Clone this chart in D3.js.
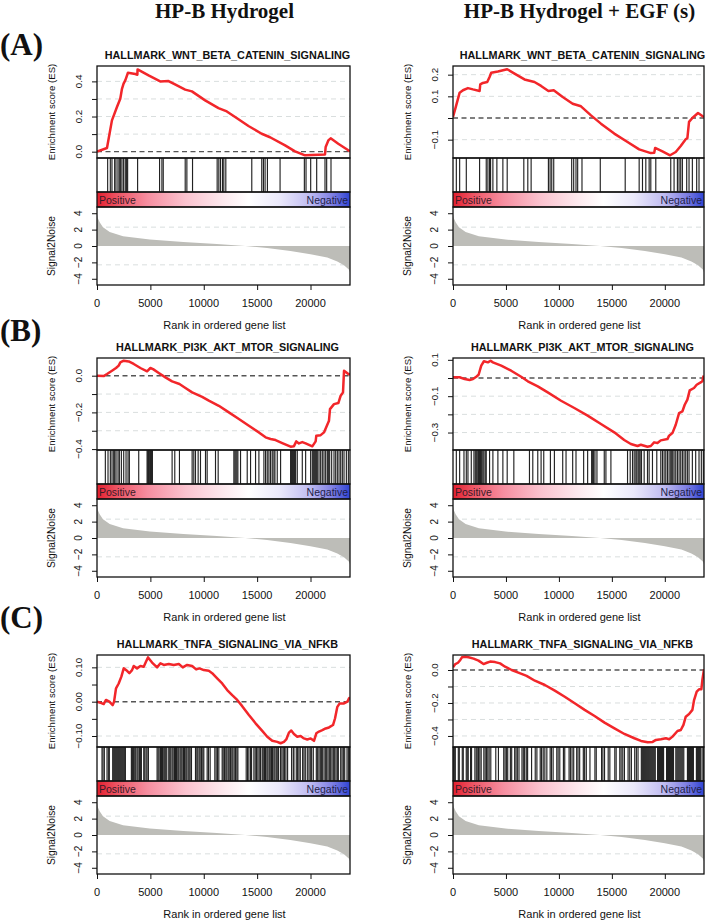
<!DOCTYPE html>
<html><head><meta charset="utf-8">
<script src="https://cdn.jsdelivr.net/npm/d3@7"></script>
<style>body{margin:0;background:#fff}svg{display:block}</style>
</head><body><svg id="c" width="707" height="920"></svg>
<script>
// ---------------- DATA ----------------
const nGenes = 23700;
const columnTitles = ["HP-B Hydrogel", "HP-B Hydrogel + EGF (s)"];
const rowLabels = ["(A)", "(B)", "(C)"];
const geneSets = ["HALLMARK_WNT_BETA_CATENIN_SIGNALING", "HALLMARK_PI3K_AKT_MTOR_SIGNALING", "HALLMARK_TNFA_SIGNALING_VIA_NFKB"];
const xTicks = [0, 5000, 10000, 15000, 20000];
const sigTicks = [4, 2, 0, -2, -4];
const sigGrid = [2.3, -2.3];
const sigLim = [-4.76, 4.76];
// ranked list metric (Signal2Noise)
const signalRank  = [0, 80, 250, 560, 1190, 2440, 4950, 8090, 11220, 13890, 15930, 18120, 20000, 21570, 22510, 23140, 23610, 23700];
const signalValue = [3.9, 3.4, 2.9, 2.3, 1.7, 1.2, 0.78, 0.49, 0.25, 0.0, -0.25, -0.6, -1.0, -1.4, -1.9, -2.35, -2.9, -3.2];

// A, HP-B Hydrogel
const esA1 = [[0,0],[935,0.021],[1090,0.074],[1400,0.178],[1870,0.254],[2180,0.301],[2340,0.358],[2490,0.387],[2650,0.406],[2900,0.449],[3590,0.442],[3780,0.438],[3800,0.468],[4830,0.434],[5920,0.400],[6700,0.402],[7170,0.387],[8260,0.353],[8890,0.343],[10130,0.292],[11380,0.248],[12160,0.229],[12940,0.197],[14190,0.146],[15430,0.102],[16210,0.082],[17620,0.036],[18550,0.002],[19490,-0.021],[20110,-0.019],[21360,-0.016],[21420,0.027],[21670,0.064],[21890,0.076],[22600,0.045],[23540,0.008],[23700,0.002]];
const hitsA1 = [998,1247,1403,1653,1777,1964,2089,2214,2339,2494,2650,2775,2869,3804,5862,6080,6205,8263,8419,8949,11256,11412,11568,11755,11880,12067,14499,15434,15590,15746,15964,17149,19425,19581,20017,20579,21358,21514,21920];
const yLimA1 = [-0.036, 0.4875], yTicksA1 = [0,0.1,0.2,0.3,0.4], yLabA1 = [0,0.2,0.4], yGridA1 = [0.1,0.2,0.3,0.4];

// A, HP-B Hydrogel + EGF (s)
const esA2 = [[0,0.005],[220,0.043],[628,0.117],[942,0.128],[1413,0.138],[1884,0.132],[2512,0.125],[2574,0.155],[2825,0.162],[3233,0.166],[3453,0.189],[3610,0.209],[4238,0.215],[5117,0.225],[5807,0.205],[6749,0.178],[7691,0.166],[8319,0.148],[9009,0.125],[9511,0.128],[10359,0.097],[11300,0.066],[12085,0.054],[13028,0.012],[13970,-0.026],[15225,-0.072],[16480,-0.111],[17578,-0.145],[18677,-0.162],[19000,-0.160],[19085,-0.138],[19776,-0.154],[20498,-0.172],[21032,-0.157],[21503,-0.129],[21973,-0.098],[22130,-0.093],[22287,-0.018],[22601,0.000],[23135,0.023],[23543,0.009],[23700,0.005]];
const hitsA2 = [314,628,1256,2511,3139,3296,3453,3547,3767,4143,4709,5117,6686,7063,7377,9009,9166,9323,9511,11206,11395,11614,11771,12179,13906,16260,17578,17892,18206,18520,18677,19148,20560,20874,21188,21345,21502,21659,22067,22287,22601,23009,23229];
const yLimA2 = [-0.1846, 0.240], yTicksA2 = [-0.1,0,0.1,0.2], yLabA2 = [-0.1,0.1,0.2], yGridA2 = [-0.1,0.1,0.2];

// B, HP-B Hydrogel
const esB1 = [[0,0],[625,-0.002],[938,0.009],[1407,0.027],[1782,0.042],[2032,0.055],[2189,0.073],[2502,0.082],[2971,0.078],[3440,0.064],[4065,0.042],[4691,0.024],[5003,0.042],[5253,0.036],[5785,0.015],[6410,-0.009],[7036,-0.031],[7724,-0.045],[8287,-0.067],[8912,-0.091],[9850,-0.115],[10475,-0.136],[11413,-0.164],[12352,-0.200],[13290,-0.236],[14228,-0.273],[15166,-0.309],[15791,-0.336],[16260,-0.345],[16729,-0.351],[17354,-0.367],[18136,-0.387],[18450,-0.384],[18668,-0.358],[18918,-0.369],[19230,-0.362],[19544,-0.369],[20169,-0.385],[20482,-0.358],[20544,-0.327],[20951,-0.324],[21263,-0.309],[21732,-0.245],[21826,-0.182],[22201,-0.155],[22608,-0.149],[22827,-0.109],[23046,-0.091],[23140,0.027],[23452,0.013],[23700,0.005]];
const hitsB1 = [782,1032,1251,1407,1564,1657,1782,1970,2095,2283,2502,2720,2908,3033,3909,4691,4753,4816,4878,4941,5003,5097,5191,7036,7286,7724,8912,9068,9225,9475,9694,10163,10319,11101,11351,12821,12915,13008,13102,13196,13446,14072,14384,14853,15166,15635,15791,15948,16104,16260,16417,16573,16667,16886,17198,18136,18230,18324,18418,18511,18605,18762,19231,19544,20013,20169,20263,20357,20451,20545,20638,20795,20951,21107,21264,21420,21576,21670,21795,21983,22202,22358,22514,22671,22827,22983,23140,23359,23547];
const yLimB1 = [-0.405, 0.0965], yTicksB1 = [0,-0.1,-0.2,-0.3,-0.4], yLabB1 = [0,-0.2,-0.4], yGridB1 = [-0.1,-0.2,-0.3];

// B, HP-B Hydrogel + EGF (s)
const esB2 = [[0,0.004],[628,0.004],[1099,-0.006],[1570,-0.011],[1884,-0.006],[2197,0.007],[2417,0.018],[2668,0.068],[2919,0.092],[3296,0.086],[3547,0.095],[3767,0.086],[4552,0.068],[5494,0.040],[6435,0.007],[7063,-0.018],[8004,-0.046],[8946,-0.079],[10202,-0.125],[11457,-0.165],[12713,-0.207],[13969,-0.253],[15225,-0.299],[16166,-0.341],[16794,-0.363],[17422,-0.374],[17736,-0.367],[18363,-0.378],[18677,-0.374],[18991,-0.354],[19305,-0.358],[19619,-0.343],[20247,-0.336],[20404,-0.317],[20718,-0.303],[21032,-0.257],[21346,-0.193],[21660,-0.184],[21880,-0.147],[22131,-0.119],[22350,-0.068],[22758,-0.055],[23009,-0.037],[23386,-0.024],[23543,-0.018],[23637,0.007],[23700,0.013]];
const hitsB2 = [314,628,1036,1256,1413,1726,1978,2103,2197,2291,2417,2511,2605,2668,2731,2825,2919,3045,3139,3453,3767,4238,4709,5117,5744,7220,7534,8004,8318,8569,9197,9574,10359,10673,11300,11614,12336,12713,13090,13184,13278,13404,13592,14282,14439,14910,16480,16731,16951,17108,17265,17359,17484,17578,17672,17798,18049,18363,18520,18834,19242,19619,19776,19933,20090,20247,20404,20560,20655,20749,20874,21032,21189,21346,21502,21659,21816,21973,22130,22287,22601,22915,23229,23448,23637];
const yLimB2 = [-0.396, 0.110], yTicksB2 = [0.1,0,-0.1,-0.2,-0.3], yLabB2 = [0.1,-0.1,-0.3], yGridB2 = [-0.1,-0.2,-0.3];

// C, HP-B Hydrogel
const esC1 = [[0,0],[313,-0.003],[625,-0.007],[844,0.005],[1157,0.0],[1470,-0.010],[1600,0.0],[1782,0.039],[2032,0.053],[2283,0.073],[2502,0.097],[2814,0.090],[3033,0.083],[3283,0.092],[3440,0.104],[3752,0.097],[4065,0.104],[4378,0.102],[4597,0.117],[4784,0.129],[5160,0.114],[5629,0.100],[5942,0.112],[6254,0.107],[6723,0.110],[7192,0.107],[7661,0.110],[8037,0.100],[8443,0.107],[8912,0.104],[9287,0.094],[9600,0.097],[10006,0.092],[10475,0.090],[10788,0.083],[11257,0.068],[11726,0.053],[12195,0.034],[12664,0.019],[13133,0.005],[13602,-0.013],[14228,-0.039],[14853,-0.063],[15479,-0.085],[15948,-0.102],[16417,-0.114],[16886,-0.117],[17198,-0.121],[17511,-0.117],[17730,-0.110],[17980,-0.090],[18199,-0.084],[18449,-0.094],[18762,-0.102],[19074,-0.100],[19387,-0.107],[19700,-0.110],[20013,-0.107],[20326,-0.114],[20545,-0.092],[20795,-0.087],[21107,-0.083],[21420,-0.078],[21733,-0.075],[22108,-0.068],[22295,-0.049],[22514,-0.015],[22733,-0.005],[23140,-0.005],[23452,0.0],[23610,0.010],[23700,0.012]];
const hitsC1 = [469,563,688,938,1063,1157,1470,1564,1657,1751,1845,1939,2032,2126,2220,2314,2408,2502,2595,2658,3221,3315,3409,3534,3628,3753,3847,3972,4066,4159,4378,4472,4597,4691,4816,5629,5723,5817,5942,6036,6129,6254,6348,6442,6536,6723,6817,6911,7036,7130,7254,7348,7442,7567,7661,7786,7880,7974,8099,8193,8318,8412,8537,8631,8725,8850,9225,9350,9444,9569,9663,9788,9913,10006,10319,10444,10600,11038,11163,11288,11413,11726,11820,11945,12070,12164,12289,12383,12508,12633,12727,12852,12977,13102,13196,13977,14103,14228,14384,14478,14697,14822,14947,15072,15197,15322,15479,15573,15698,15792,15917,16011,16136,16229,16354,16448,16573,16667,16792,16886,17011,17198,17323,17448,17573,17698,17855,18230,18387,18449,18668,18793,18918,19043,19262,19387,19512,19700,19856,19981,20106,20263,20545,20670,20795,20920,21045,21107,21264,21389,21514,21639,21764,21889,22014,22139,22264,22389,22514,22608,22827,22952,23077,23202,23421,23546,23640];
const yLimC1 = [-0.132, 0.136], yTicksC1 = [0.10,0.05,0,-0.05,-0.10], yLabC1 = [0.10,0,-0.10], yGridC1 = [0.10,-0.10];

// C, HP-B Hydrogel + EGF (s)
const esC2 = [[0,0.016],[219,0.036],[470,0.044],[689,0.061],[845,0.077],[1158,0.081],[1472,0.077],[1941,0.069],[2411,0.057],[2880,0.036],[3194,0.044],[3507,0.051],[3976,0.048],[4446,0.040],[4916,0.020],[5542,0.0],[6168,-0.016],[6951,-0.036],[7733,-0.065],[8673,-0.091],[9612,-0.125],[10551,-0.162],[11490,-0.202],[12430,-0.242],[13369,-0.279],[14308,-0.319],[15248,-0.354],[16187,-0.388],[17126,-0.414],[17752,-0.430],[18379,-0.438],[18848,-0.436],[19161,-0.424],[19631,-0.420],[20101,-0.414],[20414,-0.420],[20727,-0.404],[21197,-0.370],[21510,-0.364],[21760,-0.333],[21979,-0.283],[22292,-0.267],[22605,-0.242],[22762,-0.182],[23013,-0.131],[23232,-0.117],[23451,-0.117],[23545,-0.061],[23700,0.004]];
const hitsC2 = [31,125,219,501,595,877,971,1252,1346,1440,1659,1753,2066,2192,2286,2411,2536,2661,2912,3037,3162,3288,3413,3569,4039,4289,4790,4916,5041,5166,5417,5542,5824,5949,6074,6231,6512,6638,6763,6920,7045,7420,7765,7921,8235,8360,8516,8673,8861,9174,9299,9456,9800,9925,10082,10426,10551,10959,11084,11240,11397,11679,11804,11960,12305,12430,12587,12931,13401,13526,14027,14152,14309,14653,14810,15279,15405,15749,15874,16031,16187,16532,16688,16845,17158,17314,17471,17784,17878,17972,18066,18160,18254,18348,18442,18535,18629,18723,18817,18911,19005,19099,19318,19412,19506,19600,19694,19788,19882,20164,20258,20352,20446,20539,20633,20727,20821,21040,21134,21228,21322,21416,21510,21604,21698,21792,22136,22230,22324,22418,22512,22606,22700,22982,23076,23170,23264,23358,23514,23639];
const yLimC2 = [-0.467, 0.091], yTicksC2 = [0,-0.1,-0.2,-0.3,-0.4], yLabC2 = [0,-0.2,-0.4], yGridC2 = [-0.1,-0.2,-0.3,-0.4];

// ---------------- LAYOUT ----------------
const panels = [
  {row:0,col:0,es:esA1,hits:hitsA1,lim:yLimA1,ticks:yTicksA1,labs:yLabA1,grid:yGridA1,fmt:".1f"},
  {row:0,col:1,es:esA2,hits:hitsA2,lim:yLimA2,ticks:yTicksA2,labs:yLabA2,grid:yGridA2,fmt:".1f"},
  {row:1,col:0,es:esB1,hits:hitsB1,lim:yLimB1,ticks:yTicksB1,labs:yLabB1,grid:yGridB1,fmt:".1f"},
  {row:1,col:1,es:esB2,hits:hitsB2,lim:yLimB2,ticks:yTicksB2,labs:yLabB2,grid:yGridB2,fmt:".1f"},
  {row:2,col:0,es:esC1,hits:hitsC1,lim:yLimC1,ticks:yTicksC1,labs:yLabC1,grid:yGridC1,fmt:".2f"},
  {row:2,col:1,es:esC2,hits:hitsC2,lim:yLimC2,ticks:yTicksC2,labs:yLabC2,grid:yGridC2,fmt:".1f"}
];
const colX = [{l:97,r:350},{l:453,r:704}];
const rowOff = [0, 292, 589];
const L = {title:59, esTop:66, esBot:158, hitBot:192, barBot:207, sigBot:285, tick:307, rank:329};
const SANS = "'Liberation Sans', Arial, sans-serif";
const SERIF = "'Liberation Serif', 'Times New Roman', serif";

const svg = d3.select("#c");
svg.append("rect").attr("width",707).attr("height",920).attr("fill","#fff");

const defs = svg.append("defs");
const grad = defs.append("linearGradient").attr("id","pn").attr("x1","0").attr("x2","1").attr("y1","0").attr("y2","0");
[[0,"#e31f2e"],[0.08,"#ee5565"],[0.2,"#f68ea0"],[0.35,"#fbc3cf"],[0.5,"#fde9ee"],[0.6,"#ffffff"],[0.72,"#ebe9fb"],[0.84,"#c0bcf1"],[0.93,"#7f7fe3"],[1,"#2f44d4"]]
  .forEach(([o,c]) => grad.append("stop").attr("offset",o).attr("stop-color",c));

// column titles
columnTitles.forEach((t,i) => {
  svg.append("text").attr("x",(colX[i].l+colX[i].r)/2 + 1).attr("y",18)
    .attr("text-anchor","middle").attr("font-family",SERIF).attr("font-weight","bold")
    .attr("font-size",21).attr("fill","#111").text(t);
});
// row labels
const rowLabelY = [54.5, 341, 627.5];
rowLabels.forEach((t,i) => {
  svg.append("text").attr("x",0).attr("y",rowLabelY[i]).attr("font-family",SERIF)
    .attr("font-weight","bold").attr("font-size",31).attr("fill","#111").text(t);
});

const x0lim = [0, nGenes];
panels.forEach(p => {
  const o = rowOff[p.row];
  const cx = colX[p.col];
  const g = svg.append("g");
  const x = d3.scaleLinear().domain(x0lim).range([cx.l, cx.r]);
  const y = d3.scaleLinear().domain(p.lim).range([L.esBot + o, L.esTop + o]);
  const ys = d3.scaleLinear().domain(sigLim).range([L.sigBot + o, L.barBot + o]);

  // title
  g.append("text").attr("x",(cx.l+cx.r)/2 + 4).attr("y",L.title + o).attr("text-anchor","middle")
    .attr("font-family",SANS).attr("font-weight","bold").attr("font-size",10.8).attr("fill","#111")
    .text(geneSets[p.row]);

  // ES grid
  g.selectAll(".gr").data(p.grid).join("line")
    .attr("x1",cx.l).attr("x2",cx.r).attr("y1",d=>y(d)).attr("y2",d=>y(d))
    .attr("stroke","#d9dede").attr("stroke-width",1).attr("stroke-dasharray","5,4");
  g.append("line").attr("x1",cx.l).attr("x2",cx.r).attr("y1",y(0)).attr("y2",y(0))
    .attr("stroke","#555").attr("stroke-width",1.4).attr("stroke-dasharray","5,3.5");

  // ES curve
  const clipId = "clip" + p.row + p.col;
  defs.append("clipPath").attr("id",clipId).append("rect")
    .attr("x",cx.l).attr("y",L.esTop+o).attr("width",cx.r-cx.l).attr("height",L.esBot-L.esTop);
  g.append("path").datum(p.es).attr("clip-path","url(#"+clipId+")")
    .attr("d", d3.line().x(d=>x(d[0])).y(d=>y(d[1])))
    .attr("fill","none").attr("stroke","#f2262a").attr("stroke-width",2.5).attr("stroke-linejoin","round");

  // hits
  g.selectAll(".hit").data(p.hits).join("line")
    .attr("x1",d=>x(d)).attr("x2",d=>x(d)).attr("y1",L.esBot+o).attr("y2",L.hitBot+o)
    .attr("stroke","#222").attr("stroke-width",1.15);

  // color bar
  g.append("rect").attr("x",cx.l).attr("y",L.hitBot+o).attr("width",cx.r-cx.l).attr("height",L.barBot-L.hitBot)
    .attr("fill","url(#pn)");
  g.append("text").attr("x",cx.l+2).attr("y",L.barBot+o-3.2).attr("font-family",SANS).attr("font-size",10.5)
    .attr("fill","#3a1b28").text("Positive");
  g.append("text").attr("x",cx.r-2).attr("y",L.barBot+o-3.2).attr("text-anchor","end").attr("font-family",SANS)
    .attr("font-size",10.5).attr("fill","#1e1e48").text("Negative");

  // signal area
  const sig = signalRank.map((r,i)=>[r, signalValue[i]]);
  g.selectAll(".sg").data(sigGrid).join("line")
    .attr("x1",cx.l).attr("x2",cx.r).attr("y1",d=>ys(d)).attr("y2",d=>ys(d))
    .attr("stroke","#d9dede").attr("stroke-width",1).attr("stroke-dasharray","5,4");
  g.append("path").datum(sig)
    .attr("d", d3.area().x(d=>x(d[0])).y0(ys(0)).y1(d=>ys(d[1])))
    .attr("fill","#bdbdb8");

  // frames
  [[L.esTop,L.esBot],[L.esBot,L.hitBot],[L.hitBot,L.barBot],[L.barBot,L.sigBot]].forEach(([a,b]) => {
    g.append("rect").attr("x",cx.l).attr("y",a+o).attr("width",cx.r-cx.l).attr("height",b-a)
      .attr("fill","none").attr("stroke","#111").attr("stroke-width",1.3);
  });

  // ES y axis
  const fmt = d3.format(p.fmt);
  const yAx = g.append("g").attr("transform",`translate(${cx.l},0)`)
    .call(d3.axisLeft(y).tickValues(p.ticks).tickSize(5).tickFormat(""));
  yAx.select(".domain").remove();
  yAx.selectAll("line").attr("stroke","#111").attr("stroke-width",1);
  g.selectAll(".yl").data(p.labs).join("text")
    .attr("transform",d=>`translate(${cx.l-18.5},${y(d)}) rotate(-90)`)
    .attr("text-anchor","middle").attr("dominant-baseline","central")
    .attr("font-family",SANS).attr("font-size",9.8).attr("fill","#111")
    .text(d => fmt(d).replace("-","\u2212"));
  g.append("text").attr("transform",`translate(${cx.l-45.5},${(L.esTop+L.esBot)/2+o}) rotate(-90)`)
    .attr("text-anchor","middle").attr("dominant-baseline","central")
    .attr("font-family",SANS).attr("font-size",9.6).attr("fill","#111").text("Enrichment score (ES)");

  // signal y axis
  const sAx = g.append("g").attr("transform",`translate(${cx.l},0)`)
    .call(d3.axisLeft(ys).tickValues(sigTicks).tickSize(5).tickFormat(""));
  sAx.select(".domain").remove();
  sAx.selectAll("line").attr("stroke","#111").attr("stroke-width",1);
  g.selectAll(".sl").data(sigTicks).join("text")
    .attr("transform",d=>`translate(${cx.l-18.5},${ys(d)}) rotate(-90)`)
    .attr("text-anchor","middle").attr("dominant-baseline","central")
    .attr("font-family",SANS).attr("font-size",10).attr("fill","#111")
    .text(d => String(d).replace("-","\u2212"));
  g.append("text").attr("transform",`translate(${cx.l-45.5},${(L.barBot+L.sigBot)/2+o}) rotate(-90)`)
    .attr("text-anchor","middle").attr("dominant-baseline","central")
    .attr("font-family",SANS).attr("font-size",10.2).attr("fill","#111").text("Signal2Noise");

  // x axis
  const xAx = g.append("g").attr("transform",`translate(0,${L.sigBot+o})`)
    .call(d3.axisBottom(x).tickValues(xTicks).tickSize(5).tickFormat(""));
  xAx.select(".domain").remove();
  xAx.selectAll("line").attr("stroke","#111").attr("stroke-width",1);
  g.selectAll(".xl").data(xTicks).join("text")
    .attr("x",d=>x(d)).attr("y",L.tick+o).attr("text-anchor","middle")
    .attr("font-family",SANS).attr("font-size",11).attr("fill","#111").text(d=>d);
  g.append("text").attr("x",(cx.l+cx.r)/2+1).attr("y",L.rank+o).attr("text-anchor","middle")
    .attr("font-family",SANS).attr("font-size",11).attr("fill","#111").text("Rank in ordered gene list");
});
</script></body></html>
